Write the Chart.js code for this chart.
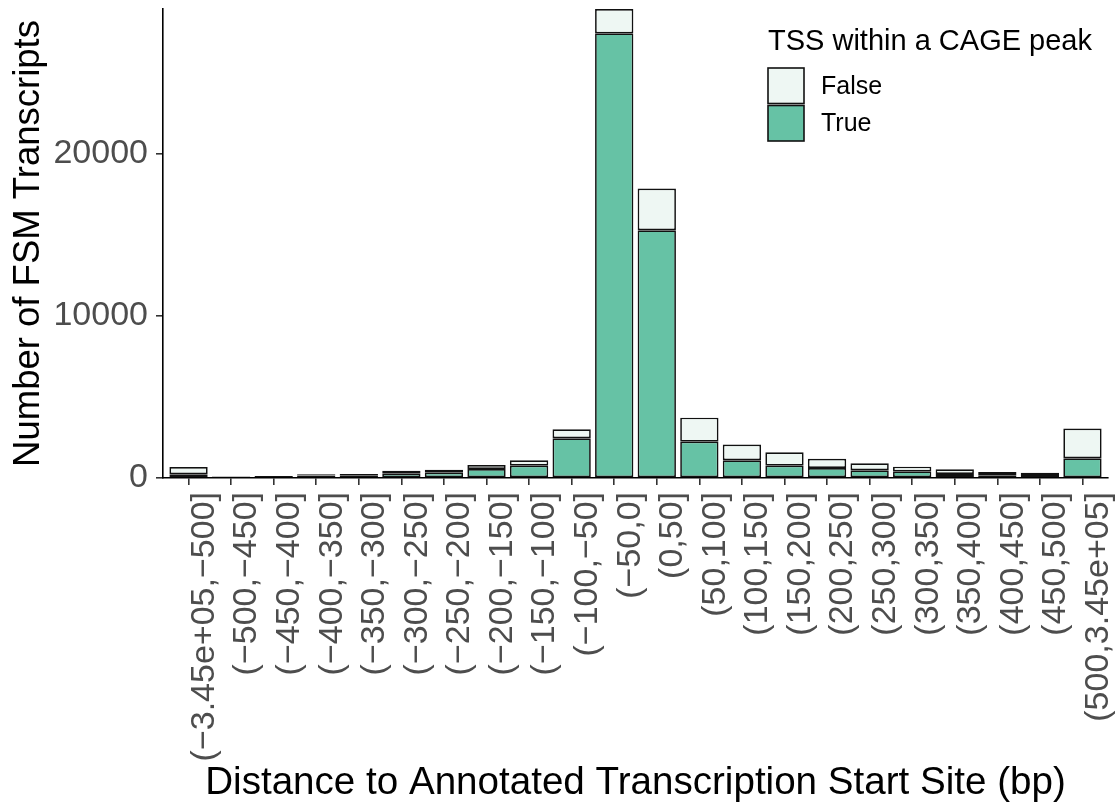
<!DOCTYPE html>
<html>
<head>
<meta charset="utf-8">
<title>FSM transcripts by distance to annotated TSS</title>
<script src="https://cdn.jsdelivr.net/npm/chart.js@4"></script>
<style>
  html, body { margin: 0; padding: 0; background: #ffffff; }
  #wrap { width: 1115px; height: 807px; }
</style>
</head>
<body>
<div id="wrap">
  <canvas id="tssChart" width="1115" height="807" style="width:1115px;height:807px"></canvas>
</div>
<script>
// distance bins (bp) to the annotated transcription start site
const bins = [
  '(\u22123.45e+05,\u2212500]', '(\u2212500,\u2212450]', '(\u2212450,\u2212400]', '(\u2212400,\u2212350]',
  '(\u2212350,\u2212300]', '(\u2212300,\u2212250]', '(\u2212250,\u2212200]', '(\u2212200,\u2212150]',
  '(\u2212150,\u2212100]', '(\u2212100,\u221250]', '(\u221250,0]', '(0,50]',
  '(50,100]', '(100,150]', '(150,200]', '(200,250]', '(250,300]', '(300,350]',
  '(350,400]', '(400,450]', '(450,500]', '(500,3.45e+05]'
];

// FSM transcripts whose TSS falls inside a CAGE peak
const trueCounts = [230, 40, 60, 150, 170, 290, 330, 555, 760, 2450, 27400, 15270,
                    2240, 1090, 760, 620, 475, 410, 245, 165, 185, 1215];
// ...and those that do not
const falseCounts = [450, 60, 60, 80, 80, 160, 180, 245, 330, 550, 1500, 2570,
                     1480, 970, 825, 570, 430, 290, 290, 205, 145, 1830];

const yTicks = [0, 10000, 20000];
const legendTitle = 'TSS within a CAGE peak';

const FONT = "'Liberation Sans', Arial, Helvetica, sans-serif";
const TRUE_COLOR = '#66c2a5';
const FALSE_COLOR = '#eef7f3';
const EDGE = '#111111';

Chart.defaults.font.family = FONT;

// y axis runs up to the tallest stack
const yMax = Math.max(...trueCounts.map((v, i) => v + falseCounts[i]));

// ggplot style key drawn inside the panel, top right
const cageLegend = {
  id: 'cageLegend',
  afterDraw(chart) {
    const ctx = chart.ctx;
    const keyX = 768, keyW = 36, keyH = 35.5;
    let keyY = 68;
    ctx.save();
    ctx.fillStyle = '#000';
    ctx.font = '29px ' + FONT;
    ctx.textBaseline = 'alphabetic';
    ctx.textAlign = 'left';
    ctx.fillText(legendTitle, keyX, 50);

    const items = chart.data.datasets.slice().reverse();
    ctx.font = '25px ' + FONT;
    ctx.textBaseline = 'middle';
    items.forEach(ds => {
      ctx.fillStyle = ds.backgroundColor;
      ctx.fillRect(keyX, keyY, keyW, keyH);
      ctx.lineWidth = 1.6;
      ctx.strokeStyle = EDGE;
      ctx.strokeRect(keyX, keyY, keyW, keyH);
      ctx.fillStyle = '#000';
      ctx.fillText(ds.label, 821, keyY + keyH / 2 + 1);
      keyY += keyH + 2;
    });
    ctx.restore();
  }
};

const ctx = document.getElementById('tssChart');

new Chart(ctx, {
  type: 'bar',
  data: {
    datasets: [
      {
        label: 'True',
        data: trueCounts.map((v, i) => ({ x: i + 1, y: v })),
        backgroundColor: TRUE_COLOR,
        borderColor: EDGE,
        borderWidth: 1.7,
        borderSkipped: false
      },
      {
        label: 'False',
        data: falseCounts.map((v, i) => ({ x: i + 1, y: v })),
        backgroundColor: FALSE_COLOR,
        borderColor: EDGE,
        borderWidth: 1.7,
        borderSkipped: false
      }
    ]
  },
  options: {
    responsive: false,
    animation: false,
    devicePixelRatio: 1,
    barPercentage: 0.9,
    categoryPercentage: 1.0,
    layout: { padding: { top: 9, right: 7, bottom: 0, left: 0 } },
    plugins: {
      legend: { display: false },
      tooltip: { enabled: false }
    },
    scales: {
      x: {
        type: 'linear',
        stacked: true,
        offset: false,
        min: 0.4,
        max: bins.length + 0.6,
        border: { display: true, color: '#000', width: 1.6 },
        grid: { display: true, offset: false, drawOnChartArea: false, drawTicks: true,
                tickLength: 7, color: '#333', lineWidth: 1.6 },
        afterBuildTicks(scale) {
          scale.ticks = bins.map((_, i) => ({ value: i + 1 }));
        },
        ticks: {
          autoSkip: false,
          maxRotation: 90,
          minRotation: 90,
          labelOffset: 16,
          padding: 7,
          color: '#4d4d4d',
          font: { size: 34 },
          callback: (v) => bins[v - 1]
        },
        title: {
          display: true,
          text: 'Distance to Annotated Transcription Start Site (bp)',
          color: '#000',
          font: { size: 38.6 },
          padding: { top: 0, bottom: 0 }
        },
        afterFit(scale) {
          scale.height = 329;
          scale.paddingLeft = 0;
          scale.paddingRight = 0;
        }
      },
      y: {
        stacked: true,
        min: 0,
        max: yMax,
        border: { display: true, color: '#000', width: 1.6 },
        grid: { display: true, drawOnChartArea: false, drawTicks: true,
                tickLength: 7, color: '#333', lineWidth: 1.6 },
        afterBuildTicks(scale) {
          scale.ticks = yTicks.map(v => ({ value: v }));
        },
        ticks: {
          color: '#4d4d4d',
          font: { size: 34 },
          padding: 8,
          callback: (v) => String(v)
        },
        title: {
          display: true,
          text: 'Number of FSM Transcripts',
          color: '#000',
          font: { size: 36.5 },
          padding: { top: 7, bottom: 0 }
        },
        afterFit(scale) {
          scale.width = 163;
          scale.paddingTop = 0;
          scale.paddingBottom = 0;
        }
      }
    }
  },
  plugins: [cageLegend]
});
</script>
</body>
</html>
